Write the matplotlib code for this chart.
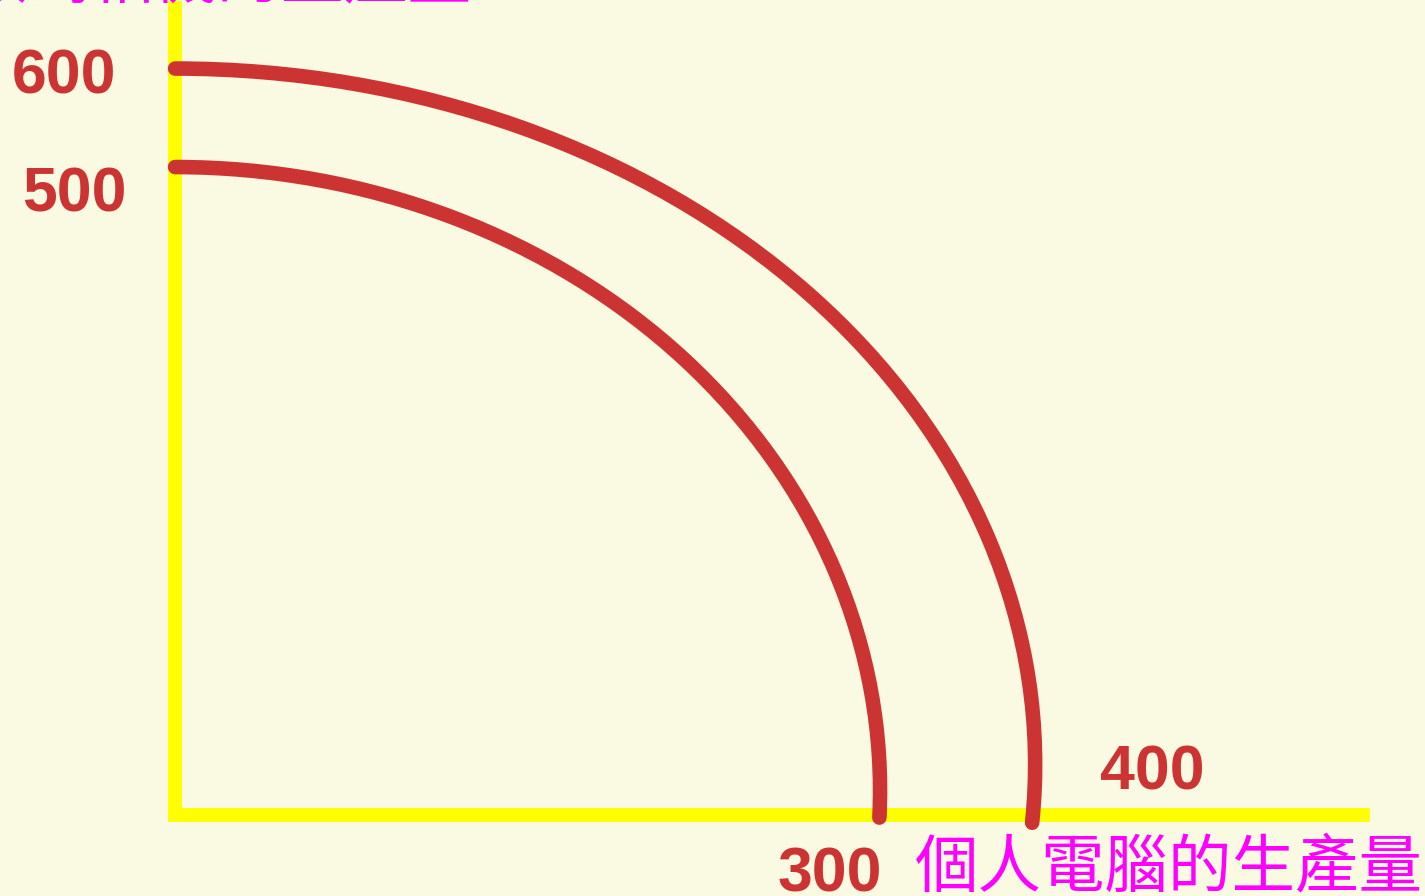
import matplotlib
matplotlib.use("Agg")
import matplotlib.pyplot as plt
from matplotlib.patches import Arc
import numpy as np

# two production possibility frontiers (inner, outer)
ppf_x_max = [300, 366]      # widest point of each curve
ppf_y_top = [500, 576]      # where each curve meets the vertical axis
ppf_y_widest = [19, 39]     # height of the widest point
ppf_y_end = [-2, -6]        # where the stroke stops, just under the axis

tick_labels = ["600", "500", "400", "300"]
x_title = "個人電腦的生產量"
y_title = "數碼相機的生產量"

BG = "#FAF9E2"
RED = "#CC3333"
YELLOW = "#FFFF00"
MAGENTA = "#FF00FF"

fig = plt.figure(figsize=(14.25, 8.96), dpi=100, facecolor=BG)
ax = fig.add_axes([0, 0, 1, 1])
ax.set_facecolor(BG)
ax.set_xlim(-74.5, 531.9)
ax.set_ylim(-62.5, 628.9)

# yellow axes
for side in ["top", "right"]:
    ax.spines[side].set_visible(False)
ax.spines["left"].set_position(("data", 0))
ax.spines["bottom"].set_position(("data", 0))
ax.spines["left"].set_bounds(-5.4, 628)
ax.spines["bottom"].set_bounds(-3, 508.5)
for side in ["left", "bottom"]:
    ax.spines[side].set_color(YELLOW)
    ax.spines[side].set_linewidth(10)
    ax.spines[side].set_capstyle("butt")
    ax.spines[side].set_zorder(1)
ax.set_xticks([])
ax.set_yticks([])

for xm, yt, yc, ye in zip(ppf_x_max, ppf_y_top, ppf_y_widest, ppf_y_end):
    b = yt - yc
    x_end = xm * np.sqrt(1 - ((ye - yc) / b) ** 2)
    theta_end = np.degrees(np.arctan2(ye - yc, x_end))
    arc = Arc((0, yc), 2 * xm, 2 * b, theta1=theta_end, theta2=90,
              color=RED, lw=10.5, capstyle="round", zorder=3, clip_on=False)
    ax.add_patch(arc)

num_font = dict(family="Liberation Sans", weight="bold", fontsize=45,
                color=RED, va="baseline", ha="center")
ax.text(-47.2, 556.5, tick_labels[0], **num_font)
ax.text(-42.8, 466.0, tick_labels[1], **num_font)
ax.text(415.7, 19.3, tick_labels[2], **num_font)
ax.text(278.7, -59.0, tick_labels[3], **num_font)

cjk = dict(family=["Noto Sans CJK TC", "DejaVu Sans"], fontsize=45.7,
           color=MAGENTA, va="baseline", ha="left", clip_on=False)
ax.text(314.9, -55.5, x_title, **cjk)
ax.text(-90.0, 630.5, y_title, **cjk)

fig.savefig("out.png", dpi=100, facecolor=BG)
